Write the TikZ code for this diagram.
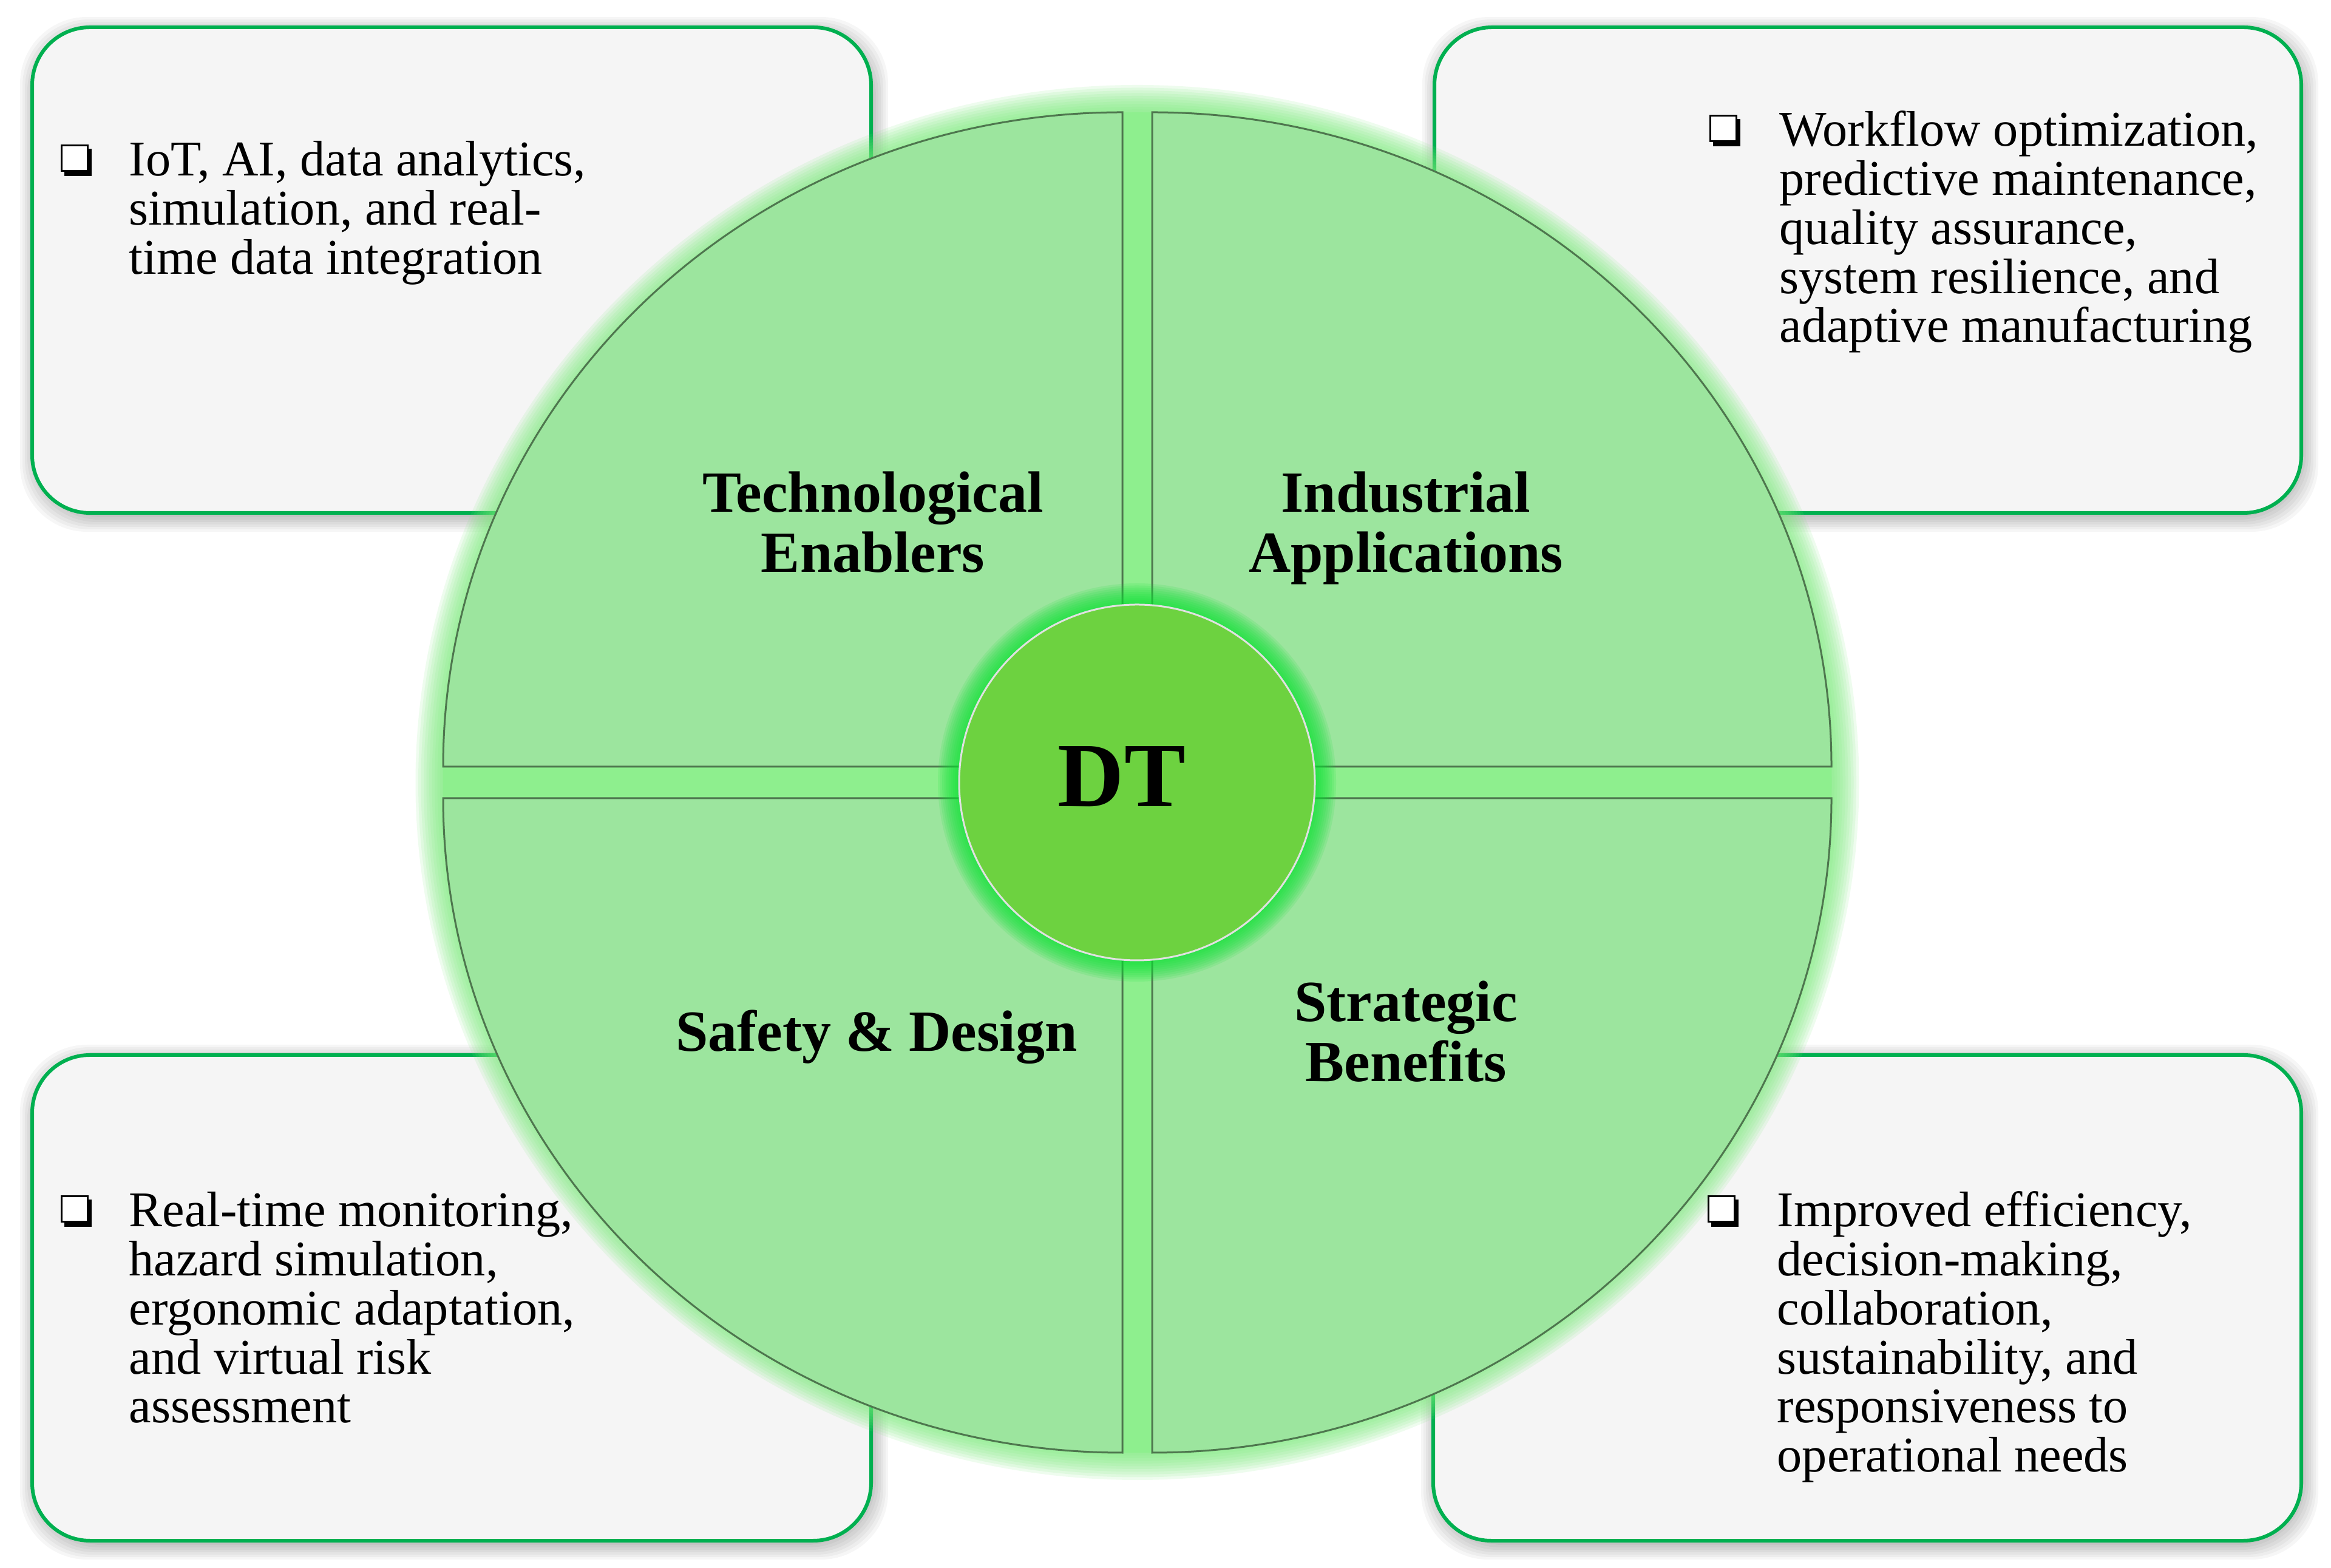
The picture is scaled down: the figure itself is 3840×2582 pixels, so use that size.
\documentclass[tikz,border=0pt]{standalone}
\usepackage{fontspec}
\setmainfont{Liberation Serif}
\definecolor{boxfill}{RGB}{245,245,245}
\definecolor{boxborder}{RGB}{0,176,80}
\definecolor{quadfill}{RGB}{156,229,158}
\definecolor{gapgreen}{RGB}{142,239,142}
\definecolor{pieglow}{RGB}{120,235,120}
\definecolor{quadline}{RGB}{78,118,78}
\definecolor{corefill}{RGB}{109,210,64}
\definecolor{coreglow}{RGB}{10,225,50}
\definecolor{coreline}{RGB}{225,225,225}
\newcommand\qbullet[2]{%
  \fill[black] (#1+6,#2) rectangle (#1+51,#2+45);
  \draw[black, line width=0.03cm, fill=white] (#1+1.5,#2+8) rectangle (#1+44,#2+50.5);
}
\tikzset{
  infobox/.style={fill=boxfill, draw=boxborder, line width=0.06cm, rounded corners=0.95cm},
  boxshadow/.style={fill=black, opacity=0.035, rounded corners=1.1cm},
  quadrant/.style={fill=quadfill, draw=quadline, line width=0.03cm},
  bodytext/.style={anchor=base west, inner sep=0pt, font=\fontsize{23.4}{22.96}\selectfont},
  titletext/.style={anchor=base, inner sep=0pt, font=\fontsize{27.3}{28.1}\selectfont\bfseries},
}
\begin{document}
\begin{tikzpicture}[x=0.01cm,y=0.01cm]
\useasboundingbox (0,0) rectangle (3840,2582);
\fill[white] (0,0) rectangle (3840,2582);

% box shadows
\foreach \xa/\ya/\xb/\yb in {53/1737/1435/2537, 2363/1737/3791/2537, 53/44/1435/844, 2361/44/3791/844}{
  \foreach \i in {0,...,6}{
    \fill[boxshadow] ({\xa-\i*4+4},{\ya-\i*4-7}) rectangle ({\xb+\i*4+4},{\yb+\i*4-7});
  }
}
% boxes
\draw[infobox] (53,1737) rectangle (1435,2537);
\draw[infobox] (2363,1737) rectangle (3791,2537);
\draw[infobox] (53,44) rectangle (1435,844);
\draw[infobox] (2361,44) rectangle (3791,844);

% pie glow
\foreach \i in {10,9,...,1}{
  \fill[pieglow, opacity=0.12] (1873.5,1293) ellipse [x radius={1144+\i*4.5}, y radius={1104+\i*4.5}];
}
\fill[gapgreen] (1873.5,1293) ellipse [x radius=1144, y radius=1104];

% quadrants
\draw[quadrant] (1849,1319) -- ++(-1119,0) arc[start angle=180, end angle=90, x radius=1119, y radius=1078] -- cycle;
\draw[quadrant] (1898,1319) -- ++(0,1078) arc[start angle=90, end angle=0, x radius=1119, y radius=1078] -- cycle;
\draw[quadrant] (1849,1267) -- ++(-1119,0) arc[start angle=180, end angle=270, x radius=1119, y radius=1078] -- cycle;
\draw[quadrant] (1898,1267) -- ++(1119,0) arc[start angle=0, end angle=-90, x radius=1119, y radius=1078] -- cycle;

% core glow and core
\foreach \i in {10,9,...,1}{
  \fill[coreglow, opacity=0.12] (1873,1293) circle [radius={293+\i*3.5}];
}
\draw[fill=corefill, draw=coreline, line width=0.03cm] (1873,1293) circle [radius=293];

% titles
\node[titletext] (tech) at (1438,1738) {\vtop{\halign{\hfil#\hfil\cr Technological\cr Enablers\cr}}};
\node[titletext] (ind) at (2316,1738) {\vtop{\halign{\hfil#\hfil\cr Industrial\cr Applications\cr}}};
\node[titletext] (safe) at (1444,850) {Safety \& Design};
\node[titletext] (strat) at (2316,899) {\vtop{\halign{\hfil#\hfil\cr Strategic\cr Benefits\cr}}};
\node[anchor=base, inner sep=0pt, font=\fontsize{43}{45}\selectfont\bfseries] (dt) at (1848,1253) {DT};

% bullets and texts
\qbullet{100}{2292}
\node[bodytext] (tltext) at (212,2292) {\vtop{\hbox{IoT, AI, data analytics,}\hbox{simulation, and real-}\hbox{time data integration}}};
\qbullet{2816}{2341}
\node[bodytext] (trtext) at (2931,2341) {\vtop{\hbox{Workflow optimization,}\hbox{predictive maintenance,}\hbox{quality assurance,}\hbox{system resilience, and}\hbox{adaptive manufacturing}}};
\qbullet{100}{561}
\node[bodytext] (bltext) at (212,561) {\vtop{\hbox{Real-time monitoring,}\hbox{hazard simulation,}\hbox{ergonomic adaptation,}\hbox{and virtual risk}\hbox{assessment}}};
\qbullet{2813}{561}
\node[bodytext] (brtext) at (2927,561) {\vtop{\hbox{Improved efficiency,}\hbox{decision-making,}\hbox{collaboration,}\hbox{sustainability, and}\hbox{responsiveness to}\hbox{operational needs}}};
\end{tikzpicture}
\end{document}
